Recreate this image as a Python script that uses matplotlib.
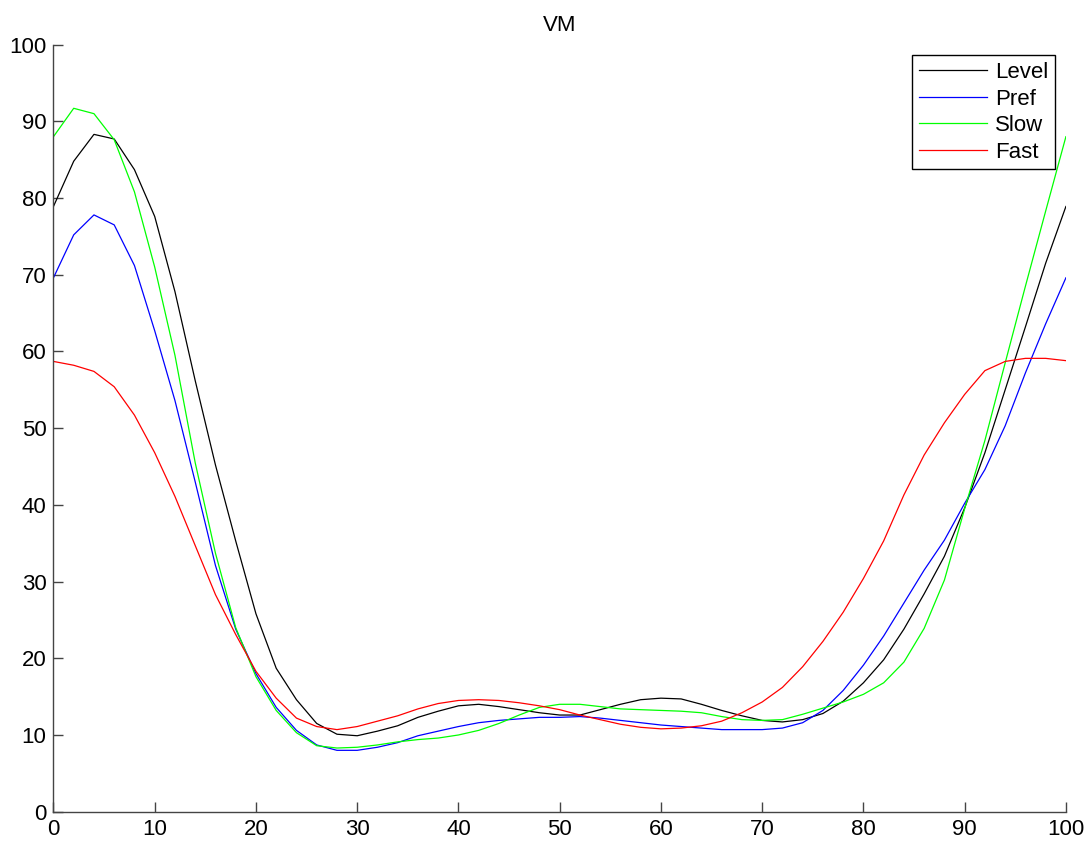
import matplotlib
matplotlib.use("Agg")
import matplotlib.pyplot as plt

plt.rcParams['font.family'] = ['Liberation Sans', 'DejaVu Sans']

# Gait cycle (%) sample points
pct = list(range(0, 101, 2))

level = [78.9, 84.8, 88.3, 87.7, 83.7, 77.6, 67.8, 56.2, 45.2, 35.3, 25.8,
         18.7, 14.6, 11.5, 10.1, 9.9, 10.5, 11.2, 12.3, 13.1, 13.8,
         14.0, 13.7, 13.3, 12.9, 12.6, 12.6, 13.3, 14.0, 14.6, 14.8,
         14.7, 14.0, 13.2, 12.5, 11.9, 11.7, 12.0, 12.8, 14.4, 16.8,
         19.8, 23.8, 28.4, 33.3, 39.6, 46.8, 55.0, 63.2, 71.5, 78.9]

pref = [69.6, 75.2, 77.8, 76.5, 71.2, 62.7, 53.6, 43.0, 32.1, 23.8, 18.0,
        13.6, 10.6, 8.7, 8.0, 8.0, 8.4, 9.0, 9.9, 10.5, 11.1,
        11.6, 11.9, 12.1, 12.3, 12.3, 12.4, 12.2, 11.9, 11.6, 11.3,
        11.1, 10.9, 10.7, 10.7, 10.7, 10.9, 11.6, 13.2, 15.8, 19.1,
        22.9, 27.2, 31.5, 35.4, 40.2, 44.6, 50.3, 57.2, 63.6, 69.6]

slow = [88.0, 91.7, 91.0, 87.6, 80.8, 71.0, 59.5, 45.5, 33.7, 24.0, 17.6,
        13.2, 10.3, 8.6, 8.3, 8.4, 8.7, 9.1, 9.4, 9.6, 10.0,
        10.6, 11.5, 12.6, 13.6, 14.0, 14.0, 13.7, 13.4, 13.3, 13.2,
        13.1, 12.9, 12.4, 12.0, 11.9, 12.0, 12.7, 13.5, 14.3, 15.3,
        16.8, 19.5, 23.9, 30.2, 39.5, 48.4, 58.5, 68.5, 78.3, 88.0]

fast = [58.7, 58.2, 57.4, 55.4, 51.7, 46.8, 41.1, 34.7, 28.3, 23.1, 18.3,
        14.8, 12.2, 11.1, 10.7, 11.1, 11.8, 12.5, 13.4, 14.1, 14.5,
        14.6, 14.5, 14.2, 13.8, 13.3, 12.6, 12.0, 11.4, 11.0, 10.8,
        10.9, 11.2, 11.8, 12.9, 14.3, 16.2, 18.9, 22.2, 26.0, 30.4,
        35.3, 41.3, 46.5, 50.7, 54.4, 57.5, 58.7, 59.1, 59.1, 58.8]

series_names = ['Level', 'Pref', 'Slow', 'Fast']
series_colors = ['#000000', '#0000ff', '#00ff00', '#ff0000']
xticks = list(range(0, 101, 10))
yticks = list(range(0, 101, 10))

fig = plt.figure(figsize=(10.91, 8.42), dpi=100)
ax = fig.add_axes([0.049, 0.036, 0.928, 0.911])

for vals, name, col in zip([level, pref, slow, fast], series_names, series_colors):
    ax.plot(pct, vals, color=col, lw=0.9, label=name)

ax.set_xlim(0, 100)
ax.set_ylim(0, 100)
ax.set_xticks(xticks)
ax.set_yticks(yticks)
ax.tick_params(direction='in', length=7, width=1, color='#444444',
               labelsize=16, pad=5, labelcolor='black')
for s in ['top', 'right']:
    ax.spines[s].set_visible(False)
for s in ['left', 'bottom']:
    ax.spines[s].set_color('#444444')
    ax.spines[s].set_linewidth(1)

ax.set_title('VM', fontsize=16, pad=10)

leg = ax.legend(loc='upper right', bbox_to_anchor=(0.989, 0.986),
                borderaxespad=0, fontsize=16, handlelength=3.05,
                handletextpad=0.36, labelspacing=0.25, fancybox=False,
                edgecolor='black', framealpha=1, borderpad=0.3)
leg.get_frame().set_linewidth(1)

fig.savefig('out.png', dpi=100)
